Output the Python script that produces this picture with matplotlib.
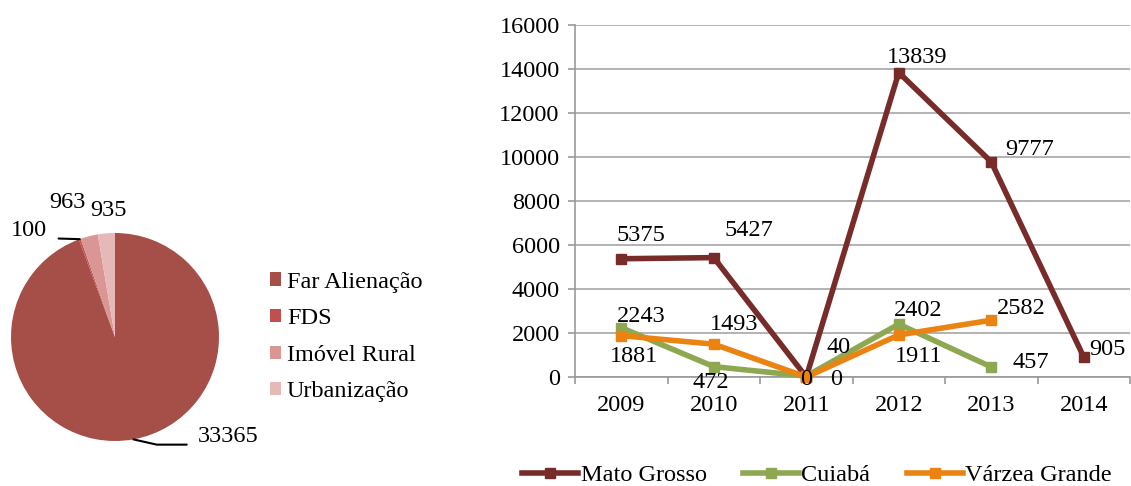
"""Habitation units by programme (pie) and by region per year (lines)."""
import numpy as np
import matplotlib
matplotlib.use("Agg")
import matplotlib.pyplot as plt
from matplotlib.patches import Patch

plt.rcParams['font.family'] = ['Liberation Serif', 'DejaVu Serif']
FS = 17.5

# --- Pie data ---
PIE_LABELS = ["Far Alienação", "FDS", "Imóvel Rural", "Urbanização"]
PIE_VALUES = [33365, 100, 963, 935]
PIE_COLORS = ["#A64F49", "#C0504D", "#D99694", "#E6B9B8"]

# --- Line data ---
YEARS = ["2009", "2010", "2011", "2012", "2013", "2014"]
MATO_GROSSO = [5375, 5427, 0, 13839, 9777, 905]
CUIABA = [2243, 472, 40, 2402, 457]
VARZEA_GRANDE = [1881, 1493, 0, 1911, 2582]

SERIES = [
    ("Mato Grosso", MATO_GROSSO, "#772C29",
     [(20, 23), (35, 27), (0, -2), (18, 15), (38, 12), (24, 8)]),
    ("Cuiabá", CUIABA, "#8DA851",
     [(20, 11), (-3, -16), (32, 29), (19, 14), (40, 4)]),
    ("Várzea Grande", VARZEA_GRANDE, "#EB8312",
     [(13, -21), (20, 20), (30, -2), (20, -22), (30, 12)]),
]

W, H = 1131, 486
fig = plt.figure(figsize=(W / 100, H / 100), dpi=100)

# === Pie ===
ax_pie = fig.add_axes([11 / W, (H - 441) / H, 208 / W, 208 / H])
wedges, _ = ax_pie.pie(PIE_VALUES, colors=PIE_COLORS, startangle=90,
                       counterclock=False, radius=1.0,
                       wedgeprops=dict(linewidth=0))
ax_pie.set_xlim(-1, 1)
ax_pie.set_ylim(-1, 1)
ax_pie.set_aspect("equal")
ax_pie.axis("off")

# text position relative to the wedge edge point (data units), leader line
pie_text = [
    ((0.62, 0.03), "left", True, (0.0, 0.1), -12.7),
    ((-0.31, 0.08), "right", True, (1.0, 0.15), 0),
    ((-0.21, 0.32), "center", False, None, None),
    ((0.02, 0.22), "center", False, None, None),
]
for w, val, (off, ha, line, rel, angb) in zip(wedges, PIE_VALUES, pie_text):
    mid = np.deg2rad((w.theta1 + w.theta2) / 2)
    ex, ey = np.cos(mid), np.sin(mid)
    kw = {}
    if line:
        cs = "arc3,rad=0" if angb == 0 else f"angle,angleA=0,angleB={angb},rad=0"
        kw["arrowprops"] = dict(arrowstyle="-", color="black", lw=1.5,
                                shrinkA=6, shrinkB=0, relpos=rel,
                                connectionstyle=cs)
    ax_pie.annotate(str(val), xy=(ex, ey), xytext=(ex + off[0], ey + off[1]),
                    ha=ha, va="center", fontsize=FS, annotation_clip=False, **kw)

pie_handles = [Patch(facecolor=c, edgecolor="none") for c in PIE_COLORS]
fig.legend(pie_handles, PIE_LABELS, loc="center left",
           bbox_to_anchor=(270 / W, 1 - 337 / H), frameon=False,
           fontsize=FS, handlelength=0.45, handleheight=0.45,
           handletextpad=0.25, labelspacing=0.64, borderpad=0, borderaxespad=0)

# === Lines ===
ax = fig.add_axes([575 / W, (H - 377) / H, 555 / W, 352 / H])
x = np.arange(len(YEARS))
handles = []
for name, vals, color, offs in SERIES:
    xi = x[:len(vals)]
    ln, = ax.plot(xi, vals, color=color, lw=4, marker="s", ms=7,
                  solid_joinstyle="miter", clip_on=False, zorder=3)
    handles.append(ln)
    for xv, yv, (dx, dy) in zip(xi, vals, offs):
        ax.annotate(str(yv), xy=(xv, yv), xytext=(dx, dy),
                    textcoords="offset pixels", ha="center", va="center",
                    fontsize=FS, zorder=5)

ax.set_xlim(-0.5, len(YEARS) - 0.5)
ax.set_ylim(0, 16000)
ax.set_yticks(np.arange(0, 16001, 2000))
ax.set_xticks(x)
ax.set_xticklabels(YEARS)
ax.set_xticks(np.arange(-0.5, len(YEARS), 1.0), minor=True)
ax.tick_params(axis="x", which="major", length=0, pad=13, labelsize=FS)
ax.tick_params(axis="x", which="minor", length=5, width=1.2, color="#999999",
               direction="out")
ax.tick_params(axis="y", length=5, width=1.2, color="#999999", pad=6,
               labelsize=FS)
ax.yaxis.grid(True, color="#A6A6A6", lw=1.2)
ax.set_axisbelow(True)
for s in ("top", "right"):
    ax.spines[s].set_visible(False)
for s in ("left", "bottom"):
    ax.spines[s].set_color("#999999")
    ax.spines[s].set_linewidth(1.2)

fig.legend(handles, [s[0] for s in SERIES], loc="center",
           bbox_to_anchor=(817 / W, 1 - 475 / H), ncol=3, frameon=False,
           fontsize=FS, handlelength=2.3, handletextpad=0.1,
           columnspacing=1.5, borderpad=0, borderaxespad=0)

fig.savefig("out.png", dpi=100)
